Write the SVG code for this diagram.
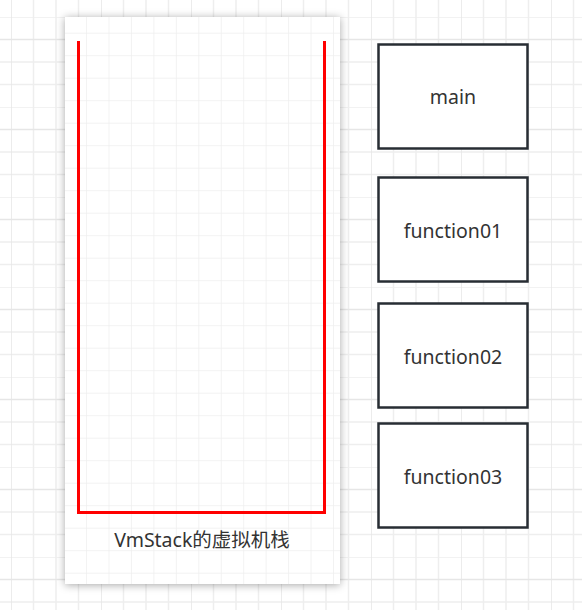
<svg xmlns="http://www.w3.org/2000/svg" width="582" height="610" viewBox="0 0 582 610">
  <defs>
    <pattern id="bgGrid" x="11" y="17" width="90" height="90" patternUnits="userSpaceOnUse">
      <path d="M22.5 0V90M45 0V90M67.5 0V90M0 0H90M0 45H90M0 67.5H90" stroke="#eeeeee" stroke-width="1.5" fill="none"/>
      <path d="M0 0V90M0 22.5H90" stroke="#e6e6e6" stroke-width="1.5" fill="none"/>
    </pattern>
    <pattern id="panelGrid" x="63.6" y="10.2" width="22.45" height="22.5" patternUnits="userSpaceOnUse">
      <path d="M0 0V22.5M0 0H22.45" stroke="#eeeeee" stroke-width="1.5" fill="none"/>
    </pattern>
    <filter id="shadow" x="-10%" y="-5%" width="120%" height="110%">
      <feDropShadow dx="0" dy="1" stdDeviation="4" flood-color="#000" flood-opacity="0.35"/>
    </filter>
  </defs>
  <style>
    .node rect { fill: #ffffff; stroke: #272d33; stroke-width: 2.5; }
    .label { font-family: "Noto Sans", "Noto Sans CJK SC", sans-serif; font-size: 19.5px; fill: #333333; text-anchor: middle; }
  </style>
  <rect x="0" y="0" width="582" height="610" fill="#ffffff"/>
  <rect x="0" y="0" width="582" height="610" fill="url(#bgGrid)"/>

  <g id="vmstack">
    <rect x="65" y="17" width="275" height="567" fill="#ffffff" filter="url(#shadow)"/>
    <rect x="65" y="17" width="275" height="567" fill="url(#panelGrid)"/>
    <path d="M78.5 41V512.5H324.5V41" fill="none" stroke="#ff0000" stroke-width="3"/>
    <text class="label" x="202" y="546.5">VmStack的虚拟机栈</text>
  </g>

  <g id="main" class="node">
    <rect x="378.5" y="44.5" width="149" height="104"/>
    <text class="label" x="453" y="104">main</text>
  </g>
  <g id="function01" class="node">
    <rect x="378.5" y="177.5" width="149" height="104"/>
    <text class="label" x="453" y="237.5">function01</text>
  </g>
  <g id="function02" class="node">
    <rect x="378.5" y="303.5" width="149" height="104"/>
    <text class="label" x="453" y="363.5">function02</text>
  </g>
  <g id="function03" class="node">
    <rect x="378.5" y="423.5" width="149" height="104"/>
    <text class="label" x="453" y="483.5">function03</text>
  </g>

  <g id="connectors"></g>
</svg>
